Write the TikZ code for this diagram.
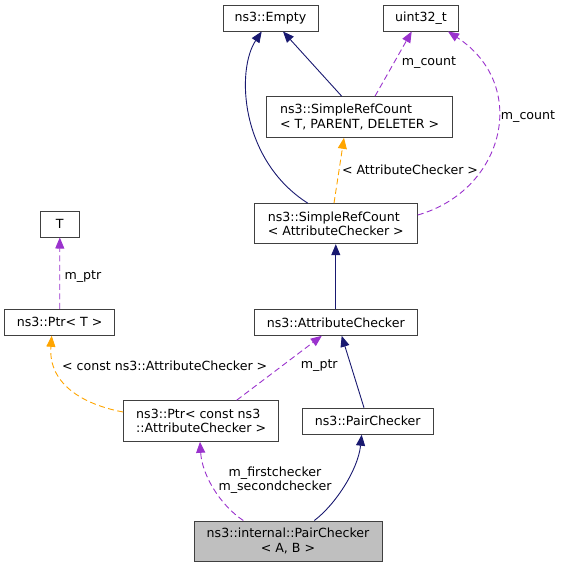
\documentclass[tikz,border=0pt]{standalone}
\usepackage{fontspec}
\setmainfont{DejaVu Sans}
\usetikzlibrary{arrows.meta}
\definecolor{navy}{HTML}{191970}
\definecolor{purp}{HTML}{9A32CD}
\definecolor{orng}{HTML}{FFA500}
\definecolor{bord}{HTML}{404040}
\definecolor{gfill}{HTML}{BFBFBF}
\begin{document}
\begin{tikzpicture}[x=1pt,y=-1pt,
  every node/.style={font=\fontsize{12.6}{14.3}\selectfont},
  cls/.style={draw=bord,line width=1pt,fill=white,inner sep=0pt,align=left},
  inh/.style={navy,line width=0.9pt,-{Triangle[length=11pt,width=9pt]}},
  use/.style={purp,line width=0.9pt,dash pattern=on 6pt off 3.5pt,-{Triangle[length=11pt,width=9pt]}},
  tmpl/.style={orng,line width=0.9pt,dash pattern=on 6pt off 3.5pt,-{Triangle[length=11pt,width=9pt]}},
  lbl/.style={inner sep=0pt,align=center}]
\useasboundingbox (0,0) rectangle (564,568);
\node[cls,minimum width=95pt,minimum height=26pt] (empty) at (270.5,18) {ns3::Empty};
\node[cls,minimum width=75pt,minimum height=26pt] (uint) at (421,18) {uint32\_t};
\node[cls,minimum width=186pt,minimum height=40.6pt] (srct) at (359.7,117) {ns3::SimpleRefCount\\< T, PARENT, DELETER >};
\node[cls,minimum width=163pt,minimum height=40pt] (srca) at (335.8,223.7) {ns3::SimpleRefCount\\< AttributeChecker >};
\node[cls,minimum width=39pt,minimum height=26pt] (t) at (59.8,224) {T};
\node[cls,minimum width=110pt,minimum height=26pt] (ptrt) at (59.7,322.3) {ns3::Ptr< T >};
\node[cls,minimum width=163pt,minimum height=26pt] (ac) at (335.8,322.3) {ns3::AttributeChecker};
\node[cls,minimum width=155pt,minimum height=40.6pt] (ptrc) at (201.2,421) {ns3::Ptr< const ns3\\::AttributeChecker >};
\node[cls,minimum width=131pt,minimum height=26pt] (pc) at (367.8,421.2) {ns3::PairChecker};
\node[cls,fill=gfill,minimum width=188pt,minimum height=40pt,align=center] (ipc) at (288,541) {ns3::internal::PairChecker\\< A, B >};

% inheritance
\draw[inh] ([xshift=-28pt]srca.north) .. controls (240,160) and (236,70) .. ([xshift=-8.8pt]empty.south);
\draw[inh] ([xshift=-18pt]srct.north) -- ([xshift=12.5pt]empty.south);
\draw[inh] (ac.north) -- (srca.south);
\draw[inh] ([xshift=-3.8pt]pc.north) -- ([xshift=5.9pt]ac.south);
\draw[inh] ([xshift=26.3pt]ipc.north) .. controls (335,505) and (358,470) .. ([xshift=-6.1pt]pc.south);

% usage
\draw[use] ([xshift=15.3pt]srct.north) -- ([xshift=-9.3pt]uint.south);
\node[lbl] (l1) at (429,62.7) {m\_count};
\draw[use] ([yshift=8.7pt]srca.east) .. controls (505,190) and (530,85) .. ([xshift=27pt]uint.south);
\node[lbl] (l2) at (528,116.7) {m\_count};
\draw[use] (ptrt.north) -- (t.south);
\node[lbl] (l3) at (83,276.7) {m\_ptr};
\draw[use] ([xshift=35.5pt]ptrc.north) -- ([xshift=-14pt]ac.south);
\node[lbl] (l4) at (319.3,366) {m\_ptr};
\draw[use] ([xshift=-44.7pt]ipc.north) .. controls (220,505) and (202,475) .. ([xshift=-1.2pt]ptrc.south);
\node[lbl] (l5) at (275,480) {m\_firstchecker\\m\_secondchecker};

% template
\draw[tmpl] ([xshift=-1.8pt]srca.north) -- ([xshift=-15.7pt]srct.south);
\node[lbl] (l6) at (410,169.3) {< AttributeChecker >};
\draw[tmpl] ([yshift=9pt]ptrc.west) .. controls (85,405) and (48,385) .. ([xshift=-8pt]ptrt.south);
\node[lbl] (l7) at (164.7,366) {< const ns3::AttributeChecker >};
\end{tikzpicture}
\end{document}
